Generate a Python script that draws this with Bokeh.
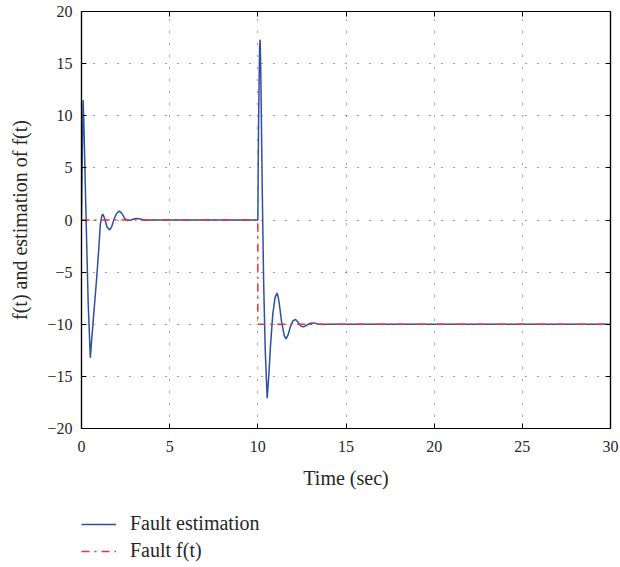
from bokeh.plotting import figure
from bokeh.layouts import column
from bokeh.models import Range1d, FixedTicker, LinearAxis, Legend, LegendItem
from bokeh.embed import file_html
from bokeh.resources import INLINE

# ---- data ----
est_t = [0, 0.05, 0.09, 0.13, 0.2, 0.28, 0.38, 0.5, 0.6, 0.72, 0.85, 0.97, 1.07, 1.15,
         1.22, 1.32, 1.45, 1.6, 1.72, 1.85, 2.0, 2.15, 2.3, 2.45, 2.6, 2.8, 3.0, 3.2,
         3.45, 3.7, 4.0, 10.0, 10.04, 10.1, 10.13, 10.17, 10.25, 10.33, 10.42, 10.53,
         10.62, 10.72, 10.85, 10.98, 11.1, 11.2, 11.35, 11.5, 11.6, 11.72, 11.85, 12.0,
         12.14, 12.3, 12.45, 12.6, 12.8, 13.0, 13.17, 13.4, 13.7, 14.0, 30.0]
est_f = [0, 7, 11.5, 9.5, 4.5, -1.3, -8, -13.2, -11, -8.5, -5.8, -3, -0.4, 0.4,
         0.55, 0.1, -0.7, -0.95, -0.6, 0.1, 0.65, 0.85, 0.6, 0.15, -0.05, 0.0, 0.12, 0.15,
         0.05, -0.02, 0, 0, 9, 16.5, 17.3, 14, 3, -6, -12.5, -17.1,
         -15, -12, -9, -7.4, -7.0, -7.8, -9.8, -11.1, -11.4, -11.0, -10.2, -9.65,
         -9.55, -9.85, -10.2, -10.25, -10.05, -9.9, -9.87, -9.98, -10.02, -10, -10]

fault_t = [0, 10, 10, 30]
fault_f = [0, 0, -10, -10]

x_ticks = [0, 5, 10, 15, 20, 25, 30]
y_ticks = [-20, -15, -10, -5, 0, 5, 10, 15, 20]
y_tick_labels = ["\u221220", "\u221215", "\u221210", "\u22125", "0", "5", "10", "15", "20"]

series_labels = ["Fault estimation", "Fault f(t)"]
x_label = "Time (sec)"
y_label = "f(t) and estimation of f(t)"

BLUE = "#2E4FA3"
RED = "#E8333A"
FONT = "Liberation Serif"
TXT = "#262626"

p = figure(width=620, height=500, x_range=Range1d(0, 30), y_range=Range1d(-20, 20),
           output_backend="svg", toolbar_location=None,
           min_border_left=81, min_border_right=10, min_border_top=11, min_border_bottom=72)

p.outline_line_color = "black"
p.outline_line_width = 1.2
p.background_fill_color = "white"
p.border_fill_color = "white"

def style_axis(ax):
    ax.axis_line_color = "black"
    ax.axis_line_width = 1.2
    ax.major_tick_in = 5
    ax.major_tick_out = 0
    ax.major_tick_line_color = "black"
    ax.minor_tick_line_color = None
    ax.major_label_text_font = FONT
    ax.major_label_text_font_size = "16px"
    ax.major_label_text_color = TXT
    ax.axis_label_text_font = FONT
    ax.axis_label_text_font_size = "20px"
    ax.axis_label_text_font_style = "normal"
    ax.axis_label_text_color = TXT

p.xaxis.ticker = FixedTicker(ticks=x_ticks)
p.yaxis.ticker = FixedTicker(ticks=y_ticks)
p.yaxis.major_label_overrides = {t: l for t, l in zip(y_ticks, y_tick_labels)}
style_axis(p.xaxis[0])
style_axis(p.yaxis[0])
p.xaxis.axis_label = x_label
p.yaxis.axis_label = y_label
p.xaxis.major_label_standoff = 12
p.yaxis.major_label_standoff = 9
p.xaxis.axis_label_standoff = 12
p.yaxis.axis_label_standoff = 13

top_ax = LinearAxis(ticker=FixedTicker(ticks=x_ticks))
style_axis(top_ax)
top_ax.major_label_overrides = {t: "" for t in x_ticks}
top_ax.major_label_standoff = 0
right_ax = LinearAxis(ticker=FixedTicker(ticks=y_ticks))
style_axis(right_ax)
right_ax.major_label_overrides = {t: "" for t in y_ticks}
right_ax.major_label_standoff = 0
p.add_layout(top_ax, "above")
p.add_layout(right_ax, "right")

p.xgrid[0].ticker = FixedTicker(ticks=x_ticks)
p.ygrid[0].ticker = FixedTicker(ticks=y_ticks)
for g in (p.xgrid[0], p.ygrid[0]):
    g.grid_line_color = "black"
    g.grid_line_alpha = 0.75
    g.grid_line_dash = "1 11"
    g.grid_line_width = 1

p.line(est_t, est_f, line_color=BLUE, line_width=1.5)
p.line(fault_t, fault_f, line_color=RED, line_width=1.5, line_dash="8 5 2 5")

# ---- legend strip below the chart (its ranges keep the copies of the series out of view) ----
pl = figure(width=620, height=67, x_range=Range1d(0, 30), y_range=Range1d(100, 101),
            output_backend="svg", toolbar_location=None,
            x_axis_type=None, y_axis_type=None,
            min_border_left=0, min_border_right=0, min_border_top=0, min_border_bottom=0)
pl.outline_line_color = None
pl.xgrid.visible = False
pl.ygrid.visible = False
pl.background_fill_alpha = 0
l_est = pl.line(est_t, est_f, line_color=BLUE, line_width=1.5)
l_fault = pl.line(fault_t, fault_f, line_color=RED, line_width=1.5, line_dash="8 5 2 5")

legend = Legend(items=[LegendItem(label=series_labels[0], renderers=[l_est]),
                       LegendItem(label=series_labels[1], renderers=[l_fault])],
                location=(0, 5), orientation="vertical",
                glyph_width=35, glyph_height=16, label_height=16, spacing=4,
                padding=0, margin=0, label_standoff=14,
                label_text_font=FONT, label_text_font_size="20px",
                label_text_color=TXT,
                border_line_color=None, background_fill_alpha=0)
pl.add_layout(legend, "center")

layout = column(p, pl, spacing=0)
open("out.html", "w").write(file_html(layout, INLINE))
